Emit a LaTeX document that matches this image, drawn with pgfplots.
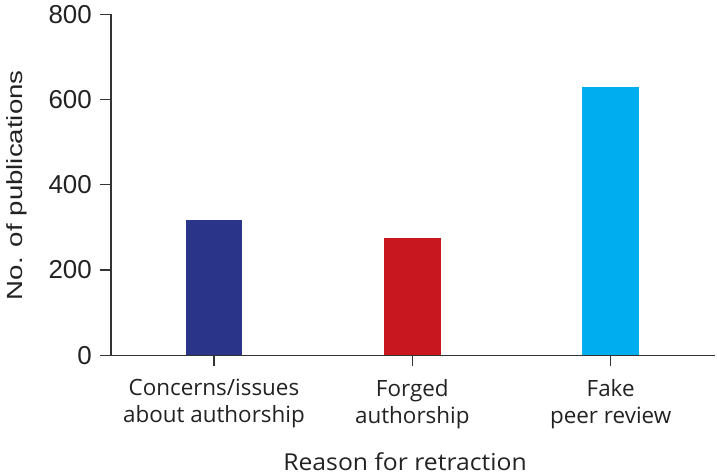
\documentclass[border=0pt]{standalone}
\usepackage{pgfplots}
\pgfplotsset{compat=1.18}
\usepackage{fontspec}
\setmainfont{Liberation Sans}
\newfontfamily\labfont{Open Sans}
\newfontfamily\ylabfont[FakeStretch=1.26]{Liberation Sans}
\newfontfamily\xlabfont[FakeStretch=1.06]{Open Sans}
\definecolor{c1}{HTML}{2A3589}
\definecolor{c2}{HTML}{C8171E}
\definecolor{c3}{HTML}{00AEEF}
\definecolor{ax}{HTML}{333333}
\definecolor{tx}{HTML}{222222}
\begin{document}
\begin{tikzpicture}
\begin{axis}[
  at={(0,0)}, anchor=south west,
  scale only axis, width=604bp, height=341bp,
  xmin=-0.519, xmax=2.526, ymin=0, ymax=800,
  axis x line*=bottom, axis y line*=left,
  axis line style={ax, line width=1.3bp},
  tick style={ax, line width=1.3bp},
  major tick length=11bp,
  tick align=outside,
  xtick={0,1,2},
  xticklabels={Concerns/issues\\about authorship, Forged\\authorship, Fake\\peer review},
  xticklabel style={font=\labfont\fontsize{22.5}{27}\selectfont, text=tx, align=center, anchor=north, inner sep=0pt, yshift=-13bp},
  ytick={0,200,400,600,800},
  yticklabel style={font=\fontsize{26}{30}\selectfont, text=tx, anchor=east, inner sep=0pt, xshift=-8bp},
  /pgf/number format/assume math mode=true,
  ylabel={No. of publications},
  ylabel style={font=\ylabfont\fontsize{22}{26}\selectfont, text=tx, at={(axis description cs:-0.1462,0.4985)}, anchor=base},
  xlabel={Reason for retraction},
  xlabel style={font=\xlabfont\fontsize{23.4}{28}\selectfont, text=tx, at={(axis description cs:0.4868,-0.3387)}, anchor=base},
]
\addplot[ybar, bar shift=0pt, bar width=56.5bp, fill=c1, draw=none] coordinates {(0,317)};
\addplot[ybar, bar shift=0pt, bar width=56.5bp, fill=c2, draw=none] coordinates {(1,276)};
\addplot[ybar, bar shift=0pt, bar width=56.5bp, fill=c3, draw=none] coordinates {(2,630)};
\end{axis}
\pgfresetboundingbox
\path[use as bounding box] (-111bp,-119.7bp) rectangle (606bp,355.3bp);
\end{tikzpicture}
\end{document}
